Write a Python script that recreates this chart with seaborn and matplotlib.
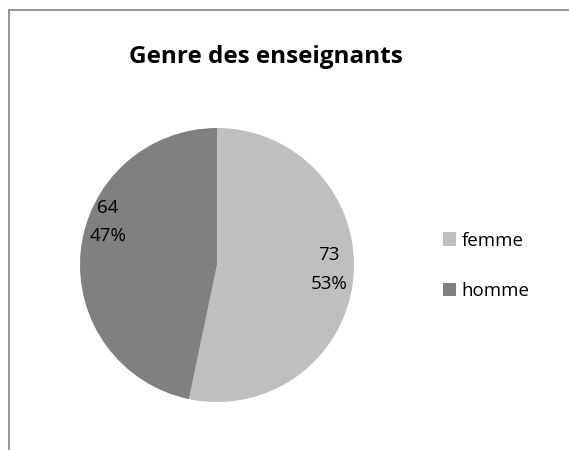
import matplotlib
matplotlib.use('Agg')
import matplotlib.pyplot as plt
import matplotlib.lines as mlines
from matplotlib.patches import Patch
import seaborn as sns

# data
labels = ['femme', 'homme']
counts = [73, 64]
colors = ['#BFBFBF', '#808080']

sns.set_theme(style='white')
plt.rcParams['font.family'] = ['Open Sans', 'DejaVu Sans']
plt.rcParams['text.color'] = 'black'

fig = plt.figure(figsize=(5.69, 4.5), dpi=100)
ax = fig.add_axes([80 / 569, 1 - 403 / 450, 274 / 569, 276 / 450])

total = sum(counts)
wedges, texts, autotexts = ax.pie(
    counts,
    colors=colors,
    startangle=90,
    counterclock=False,
    autopct=lambda p: f'{round(p * total / 100)}\n{p:.0f}%',
    pctdistance=0.82,
    wedgeprops=dict(linewidth=0),
    textprops=dict(fontsize=13.5, color='black', linespacing=1.75),
)
ax.set_xlim(-1, 1)
ax.set_ylim(-1, 1)
ax.set_aspect('equal')

# excel "best fit" puts the second label a bit higher
x, y = autotexts[1].get_position()
autotexts[1].set_position((x + 0.02, y + 0.23))
x, y = autotexts[0].get_position()
autotexts[0].set_position((x, y + 0.05))

fig.text(266 / 569, 1 - 57 / 450, 'Genre des enseignants',
         ha='center', va='center', fontsize=17.5, fontweight='bold', color='black')

handles = [Patch(facecolor=c, edgecolor='none', label=l) for c, l in zip(colors, labels)]
fig.legend(handles=handles, loc='center left', bbox_to_anchor=(426 / 569, 1 - 266 / 450),
           frameon=False, fontsize=13.5, handlelength=0.7, handleheight=0.7,
           handletextpad=0.3, labelspacing=1.75)

# chart area border (left and top only visible)
fig.add_artist(mlines.Line2D([8.5 / 569, 8.5 / 569], [0, 1 - 10 / 450],
                             color='#8C8C8C', linewidth=1.3, transform=fig.transFigure))
fig.add_artist(mlines.Line2D([8.5 / 569, 1.01], [1 - 10 / 450, 1 - 10 / 450],
                             color='#8C8C8C', linewidth=1.3, transform=fig.transFigure))

fig.savefig('out.png', dpi=100)
